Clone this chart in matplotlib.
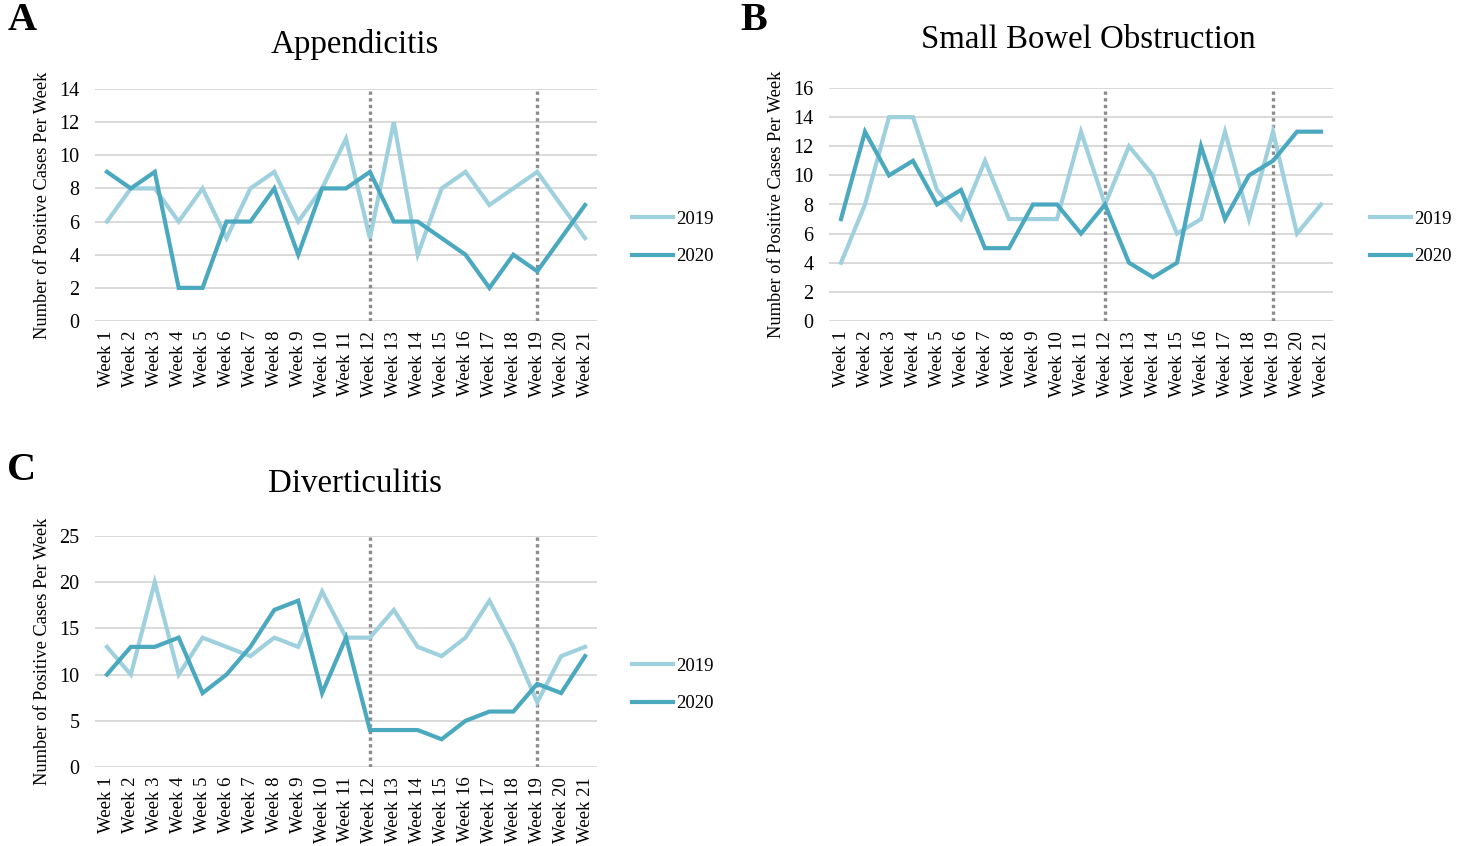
# weekly positive case counts, 2019 vs 2020, three diagnoses

import matplotlib.pyplot as plt

weeks = ['Week %d' % i for i in range(1, 22)]

appendicitis_2019 = [6, 8, 8, 6, 8, 5, 8, 9, 6, 8, 11, 5, 12, 4, 8, 9, 7, 8, 9, 7, 5]
appendicitis_2020 = [9, 8, 9, 2, 2, 6, 6, 8, 4, 8, 8, 9, 6, 6, 5, 4, 2, 4, 3, 5, 7]

sbo_2019 = [4, 8, 14, 14, 9, 7, 11, 7, 7, 7, 13, 8, 12, 10, 6, 7, 13, 7, 13, 6, 8]
sbo_2020 = [7, 13, 10, 11, 8, 9, 5, 5, 8, 8, 6, 8, 4, 3, 4, 12, 7, 10, 11, 13, 13]

divert_2019 = [13, 10, 20, 10, 14, 13, 12, 14, 13, 19, 14, 14, 17, 13, 12, 14, 18, 13, 7, 12, 13]
divert_2020 = [10, 13, 13, 14, 8, 10, 13, 17, 18, 8, 14, 4, 4, 4, 3, 5, 6, 6, 9, 8, 12]

marker_weeks = ['Week 12', 'Week 19']  # dotted reference lines

c2019 = '#9fd0de'
c2020 = '#4aa8bf'
serif = 'Liberation Serif'

W, H = 1467, 846
fig = plt.figure(figsize=(W / 100, H / 100), dpi=100)
plt.rcParams['font.family'] = serif


def px_axes(left, top, right, bottom):
    return fig.add_axes([left / W, 1 - bottom / H, (right - left) / W, (bottom - top) / H])


def draw(ax, s2019, s2020, ymax, ystep, title, title_xy, letter_xy, letter, leg_xy):
    x = list(range(len(weeks)))
    for yv in range(0, ymax + 1, ystep):
        ax.axhline(yv, color='#d9d9d9', lw=1.4, zorder=0)
    for w in marker_weeks:
        xi = weeks.index(w)
        ax.axvline(xi, color='#8c8c8c', lw=2.4, ls=(0, (1, 1)), zorder=1)
    ax.plot(x, s2019, color=c2019, lw=3, label='2019', zorder=2, solid_joinstyle='miter')
    ax.plot(x, s2020, color=c2020, lw=3, label='2020', zorder=3, solid_joinstyle='miter')
    ax.set_xlim(-0.5, len(weeks) - 0.5)
    ax.set_ylim(0, ymax)
    ax.set_yticks(range(0, ymax + 1, ystep))
    ax.set_xticks(x)
    ax.set_xticklabels(weeks, rotation=90, fontsize=13.5)
    ax.tick_params(axis='y', length=0, pad=11, labelsize=14.5)
    ax.tick_params(axis='x', length=0, pad=7)
    for s in ax.spines.values():
        s.set_visible(False)
    ax.set_ylabel('Number of Positive Cases Per Week', fontsize=13.2, labelpad=6)
    fig.text(title_xy[0] / W, 1 - title_xy[1] / H, title, fontsize=23.7,
             ha='center', va='center')
    fig.text(letter_xy[0] / W, 1 - letter_xy[1] / H, letter, fontsize=29,
             fontweight='bold', ha='center', va='center')
    ax.legend(loc='center left', bbox_to_anchor=(leg_xy[0] / W, 1 - leg_xy[1] / H),
              bbox_transform=fig.transFigure, frameon=False, fontsize=13.5,
              handlelength=2.2, handletextpad=0.15, labelspacing=1.1,
              borderpad=0, borderaxespad=0)


axA = px_axes(95, 89, 597, 321)
draw(axA, appendicitis_2019, appendicitis_2020, 14, 2, 'Appendicitis',
     (355, 44), (22, 20), 'A', (632, 238))

axB = px_axes(829, 88, 1333, 321)
draw(axB, sbo_2019, sbo_2020, 16, 2, 'Small Bowel Obstruction',
     (1088, 40), (754, 20), 'B', (1370, 238))

axC = px_axes(95, 536, 597, 767)
draw(axC, divert_2019, divert_2020, 25, 5, 'Diverticulitis',
     (355, 484), (22, 470), 'C', (632, 685))

fig.savefig('out.png', dpi=100)
